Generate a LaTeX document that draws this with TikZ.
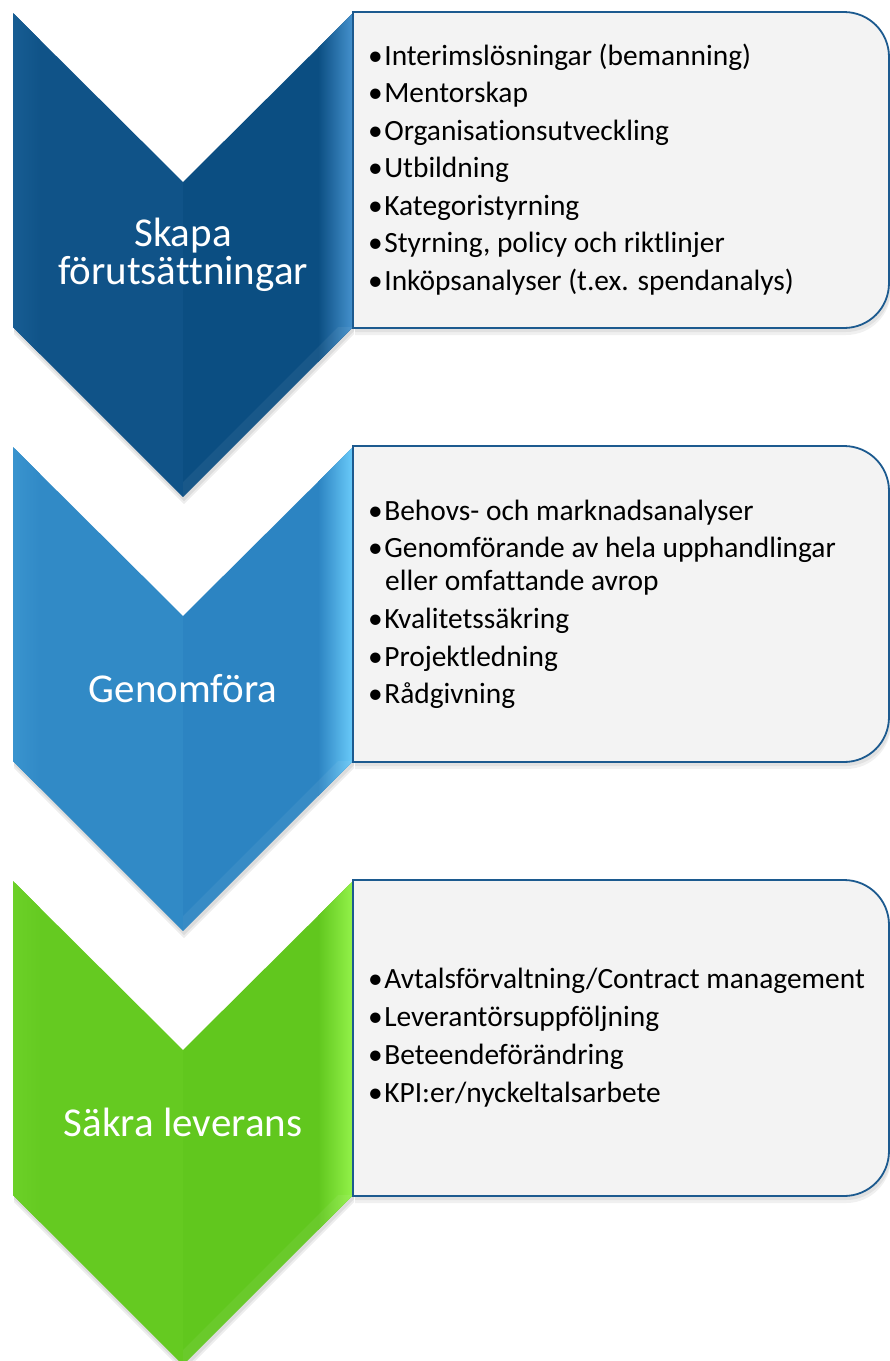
\documentclass[tikz,border=0pt]{standalone}
\usepackage{fontspec}
\setmainfont{Carlito}[Ligatures=NoCommon]
\definecolor{navy}{HTML}{0B4E82}
\definecolor{navylight}{HTML}{4592CE}
\definecolor{sky}{HTML}{2C84C2}
\definecolor{skylight}{HTML}{6ACBFA}
\definecolor{grass}{HTML}{61C71E}
\definecolor{grasslight}{HTML}{93F24A}
\definecolor{boxblue}{HTML}{1C5A8F}
\definecolor{boxgrey}{HTML}{F3F3F3}
% chevron outline, #1 = top edge
\newcommand{\chevron}[1]{(13,#1) -- (183,#1+169) -- (353,#1) -- (353,#1+314) -- (183,#1+484) -- (13,#1+314) -- cycle}
% box outline, #1 = top edge
\newcommand{\listbox}[1]{(353,#1) -- (844,#1) .. controls (869,#1) and (889,#1+20) .. (889,#1+45) -- (889,#1+271) .. controls (889,#1+296) and (869,#1+316) .. (844,#1+316) -- (353,#1+316) -- cycle}
\newcommand{\bul}{•\kern1.5pt}
\begin{document}
\begin{tikzpicture}[x=1pt,y=-1pt,
    stage/.style={text=white, font=\fontsize{41}{38}\selectfont, align=center, inner sep=0},
    item/.style={anchor=base west, inner sep=0, font=\fontsize{29.4}{32}\selectfont},
    frame/.style={draw=boxblue, line width=1.8pt, fill=boxgrey}]
    \useasboundingbox[fill=white] (0,0) rectangle (890,1361);
    % chevrons with bevel
    \foreach \y/\main/\light/\txt [count=\i] in {13/navy/navylight/{Skapa\\förutsättningar}, 447/sky/skylight/Genomföra, 881/grass/grasslight/Säkra leverans}{
        \fill[black, opacity=0.07, shift={(1,4)}] \chevron{\y};
        \fill[black, opacity=0.07, shift={(1,7)}] \chevron{\y};
        \begin{scope}
            \clip \chevron{\y};
            \fill[\main!92!\light] (13,\y) rectangle (183,\y+484);
            \fill[\main] (183,\y) rectangle (353,\y+484);
            \shade[left color=\main!78!\light, right color=\main!92!\light] (13,\y) rectangle (40,\y+484);
            \shade[left color=\main, right color=\light] (318,\y) rectangle (353,\y+484);
            \fill[white, opacity=0.06] (183,\y+484) -- (353,\y+314) -- (338,\y+314) -- (183,\y+469) -- cycle;
        \end{scope}
        \node[stage] (stage\i) at (183,\y+241.5) {\txt};
        % list box
        \fill[black, opacity=0.06, shift={(2,4)}] \listbox{\y-1};
        \fill[black, opacity=0.06, shift={(2,7)}] \listbox{\y-1};
        \draw[frame] \listbox{\y-1};
    }
    % items, first stage
    \foreach \t [count=\k] in {Interimslösningar (bemanning), Mentorskap, Organisationsutveckling,
        Utbildning, Kategoristyrning, {Styrning, policy och riktlinjer}, Inköpsanalyser (t.ex. spendanalys)}
        \node[item] (a\k) at (368,27.5+37.5*\k) {\bul\t};
    % items, second stage
    \foreach \yy/\t [count=\k] in {520/Behovs- och marknadsanalyser, 557/Genomförande av hela upphandlingar,
        628/Kvalitetssäkring, 666/Projektledning, 703/Rådgivning}
        \node[item] (b\k) at (368,\yy) {\bul\t};
    \node[item] (b2x) at (385,590) {eller omfattande avrop};
    % items, third stage
    \foreach \t [count=\k] in {Avtalsförvaltning/Contract management, Leverantörsuppföljning,
        Beteendeförändring, KPI:er/nyckeltalsarbete}
        \node[item] (c\k) at (368,950+38*\k) {\bul\t};
\end{tikzpicture}
\end{document}
